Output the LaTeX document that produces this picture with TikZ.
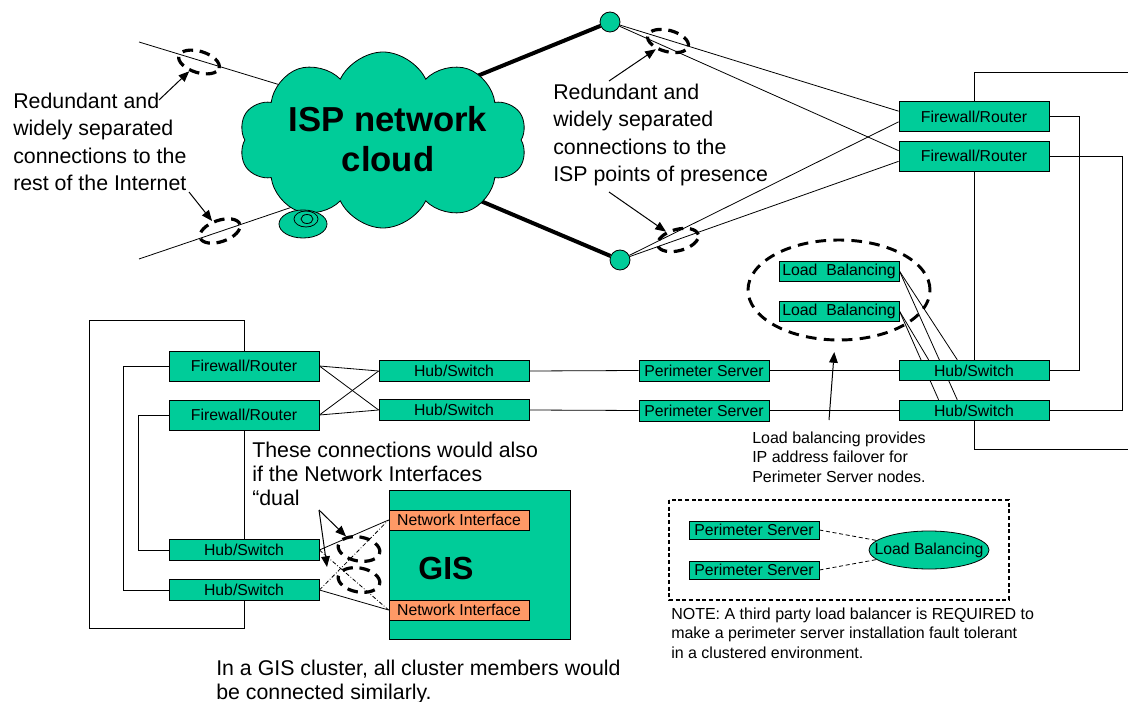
\documentclass[tikz,border=0pt]{standalone}
\usepackage{fontspec}
\setmainfont{Liberation Sans}
\usetikzlibrary{shapes.geometric,shapes.symbols,arrows.meta,backgrounds}
\definecolor{ispgreen}{RGB}{0,204,153}
\definecolor{nicolor}{RGB}{255,153,102}
\begin{document}
\begin{tikzpicture}%
        [x=0.75pt, y=-0.75pt,
        box/.style={draw=black, fill=ispgreen, line width=0.6pt, inner sep=0pt, font=\fontsize{11.85}{14}\selectfont},
        fwbox/.style={box, minimum width=112.5pt, minimum height=22.5pt},
        hubbox/.style={box, minimum width=112.5pt, minimum height=15.5pt},
        psbox/.style={box, minimum width=97.5pt, minimum height=15.75pt},
        lbbox/.style={box, minimum width=90pt, minimum height=15pt},
        nibox/.style={box, fill=nicolor, minimum width=105pt, minimum height=15pt},
        pop/.style={circle, draw, fill=ispgreen, line width=0.6pt, minimum size=15pt, inner sep=0pt},
        ring/.style={ellipse, draw, line width=2.4pt, dash pattern=on 8pt off 5pt, inner sep=0pt, minimum width=31.5pt, minimum height=16pt},
        wire/.style={line width=0.6pt},
        uplink/.style={line width=3pt},
        pointer/.style={line width=0.75pt, -{Triangle[length=8pt, width=6.5pt]}},
        note/.style={align=left, anchor=north west, inner sep=0pt, font=\fontsize{16}{20.6}\selectfont},
        smallnote/.style={note, font=\fontsize{12}{14.6}\selectfont}]
    \useasboundingbox (0,0) rectangle (1128,702);
    %%
    %% Drawing the ISP cloud and the points of presence
    \node[cloud, cloud puffs=10, cloud puff arc=130, aspect=1.6, draw, fill=ispgreen, line width=0.6pt,
          minimum width=216pt, minimum height=132pt, inner sep=0pt] (isp) at (383,140) {};
    \draw[fill=ispgreen, line width=0.6pt] (303,224) ellipse [x radius=24, y radius=14];
    \draw[line width=0.6pt] (306,219) ellipse [x radius=12, y radius=8];
    \draw[line width=0.6pt] (307,219) ellipse [x radius=6, y radius=4.5];
    \node[font=\bfseries\fontsize{26}{30}\selectfont, align=center] (isplabel) at (388,139) {ISP network\\cloud};
    \node[pop] (pop1) at (610,22) {};
    \node[pop] (pop2) at (620,260) {};
    \coordinate (inetA) at (139,42);
    \coordinate (inetB) at (139,259);
    \coordinate (ispW1) at (300,91);
    \coordinate (ispW2) at (310,201);
    \coordinate (ispE1) at (460,83);
    \coordinate (ispE2) at (450,188);
    %%
    %% Drawing the boxes
    \node[fwbox] (frr1) at (974,116.5) {Firewall/Router};
    \node[fwbox] (frr2) at (974,156) {Firewall/Router};
    \node[hubbox] (hsr1) at (974,370.5) {Hub/Switch};
    \node[hubbox] (hsr2) at (974,410.5) {Hub/Switch};
    \node[psbox] (psr1) at (704,370.5) {Perimeter Server};
    \node[psbox] (psr2) at (704,410.5) {Perimeter Server};
    \node[hubbox] (hsm1) at (454,371) {Hub/Switch};
    \node[hubbox] (hsm2) at (454,410) {Hub/Switch};
    \node[fwbox] (frl1) at (244,366) {Firewall/Router};
    \node[fwbox] (frl2) at (244,415) {Firewall/Router};
    \node[hubbox] (hsl1) at (244,550) {Hub/Switch};
    \node[hubbox] (hsl2) at (244,590) {Hub/Switch};
    \node[lbbox] (lb1) at (839,271) {Load~~Balancing};
    \node[lbbox] (lb2) at (839,311) {Load~~Balancing};
    \node[box, minimum width=135.75pt, minimum height=111.75pt] (gis) at (479.5,564.5) {};
    \node[font=\bfseries\fontsize{24}{28}\selectfont] (gislabel) at (446,568) {GIS};
    \node[nibox] (ni1) at (459,520) {Network Interface};
    \node[nibox] (ni2) at (459,610) {Network Interface};
    %% the small example of load balancing
    \draw[line width=1pt, dash pattern=on 3pt off 2pt] (669,500) rectangle (1009,600);
    \node[psbox, minimum height=13.5pt] (psa) at (754,530) {Perimeter Server};
    \node[psbox, minimum height=13.5pt] (psb) at (754,570) {Perimeter Server};
    \node[ellipse, draw, fill=ispgreen, line width=0.6pt, inner sep=0pt, minimum width=90pt, minimum height=28.5pt,
          font=\fontsize{11.85}{14}\selectfont] (lbe) at (929,550) {\makebox[0pt]{Load Balancing}};
    %%
    %% Drawing the connections
    \begin{scope}[on background layer]
    \draw[wire] (inetA) -- (ispW1);
    \draw[wire] (inetB) -- (ispW2);
    \draw[uplink] (ispE1) -- (pop1);
    \draw[uplink] (ispE2) -- (pop2);
    \draw[wire] (pop1) -- ([yshift=4pt]frr1.west);
    \draw[wire] (pop1) -- ([yshift=4pt]frr2.west);
    \draw[wire] (pop2) -- ([yshift=-4pt]frr1.west);
    \draw[wire] (pop2) -- ([yshift=-4pt]frr2.west);
    \draw[wire] (lb1.east) -- ([xshift=44pt]hsr1.north west);
    \draw[wire] (lb1.east) -- ([xshift=44pt]hsr2.north west);
    \draw[wire] (lb2.east) -- ([xshift=22.5pt]hsr1.north west);
    \draw[wire] (lb2.east) -- ([xshift=30pt]hsr2.north west);
    \end{scope}
    \coordinate (wireA) at (1128,72);
    \coordinate (wireB) at (1128,449);
    \draw[wire] (frr1.north) |- (wireA);
    \draw[wire] (frr1.east) -- ++(30,0) |- (hsr1.east);
    \draw[wire] (frr2.east) -- ++(73,0) |- (hsr2.east);
    \draw[wire] (frr2.south) -- (hsr1.north);
    \draw[wire] (hsr2.south) |- (wireB);
    \draw[wire] (hsm1.east) -- (psr1.west);
    \draw[wire] (psr1.east) -- (hsr1.west);
    \draw[wire] (hsm2.east) -- (psr2.west);
    \draw[wire] (psr2.east) -- (hsr2.west);
    \draw[wire] (frl1.east) -- (hsm1.west);
    \draw[wire] (frl1.east) -- (hsm2.west);
    \draw[wire] (frl2.east) -- (hsm1.west);
    \draw[wire] (frl2.east) -- (hsm2.west);
    \draw[wire] (frl1.north) -- ++(0,-30) -| ++(-155,308) -| (hsl2.south);
    \draw[wire] (frl1.west) -- ++(-45,0) |- (hsl2.west);
    \draw[wire] (frl2.west) -- ++(-30,0) |- (hsl1.west);
    \draw[wire] (frl2.south) -- (hsl1.north);
    \draw[wire] (hsl1.east) -- (ni1.west);
    \draw[wire] (hsl2.east) -- (ni2.west);
    \draw[wire, dash pattern=on 3pt off 1.5pt on 0.6pt off 1.5pt] (hsl1.east) -- (ni2.west);
    \draw[wire, dash pattern=on 3pt off 1.5pt on 0.6pt off 1.5pt] (hsl2.east) -- (ni1.west);
    \draw[wire, dash pattern=on 3pt off 2pt] (psa.east) -- (lbe);
    \draw[wire, dash pattern=on 3pt off 2pt] (psb.east) -- (lbe);
    %%
    %% Drawing the callouts
    \node[ring, rotate=-17] (ring1) at (199,62) {};
    \node[ring, rotate=19] (ring2) at (220,231) {};
    \node[ring, rotate=-15] (ring3) at (668,41) {};
    \node[ring, rotate=15] (ring4) at (678,240) {};
    \node[ring, rotate=-10, minimum height=18pt] (ring5) at (359,549) {};
    \node[ring, rotate=-10, minimum height=18pt] (ring6) at (359,580) {};
    \node[ring, line width=2.2pt, dash pattern=on 8pt off 5.5pt, minimum width=136.5pt, minimum height=75pt] (lbring) at (839,290) {};
    \coordinate (tagA) at (159,100);
    \coordinate (tagB) at (189,192);
    \coordinate (tagC) at (609,81);
    \coordinate (tagD) at (609,192);
    \coordinate (tagE) at (829,420);
    \coordinate (tagF) at (319,510);
    \coordinate (tagG) at (327,567);
    \draw[pointer] (tagA) -- (ring1);
    \draw[pointer] (tagB) -- (ring2);
    \draw[pointer] (tagC) -- (ring3);
    \draw[pointer] (tagD) -- (ring4);
    \draw[pointer, shorten >=8pt] (tagE) -- (lbring);
    \draw[pointer] (tagF) -- (ring5);
    \draw[pointer] (tagF) -- (tagG);
    %%
    %% Drawing the texts
    \node[note] (leftnote) at (13,92.7) {Redundant and\\widely separated\\connections to the\\rest of the Internet};
    \node[note] (popnote) at (553,83.7) {Redundant and\\widely separated\\connections to the\\ISP points of presence};
    \node[note, font=\fontsize{16}{18}\selectfont] (dualnote) at (252,441.7) {These connections would also\\if the Network Interfaces\\“dual};
    \node[smallnote] (lbnote) at (752,431.5) {Load balancing provides\\IP address failover for\\Perimeter Server nodes.};
    \node[smallnote] (notenote) at (671,607.5) {NOTE: A third party load balancer is REQUIRED to\\make a perimeter server installation fault tolerant\\in a clustered environment.};
    \node[note, font=\fontsize{16}{18}\selectfont] (clusternote) at (216,659.7) {In a GIS cluster, all cluster members would\\be connected similarly.};
    %%
\end{tikzpicture}
\end{document}
